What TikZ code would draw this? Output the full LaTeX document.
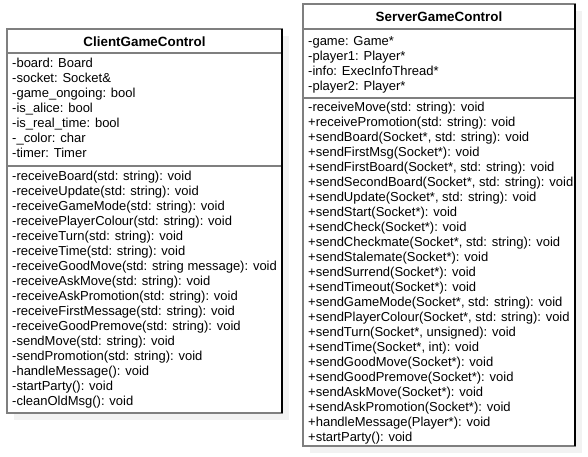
\documentclass[tikz,border=0pt]{standalone}
\usepackage{fontspec}
\setmainfont{Liberation Sans}
\definecolor{edge}{HTML}{7F7F7F}
\definecolor{shadowc}{HTML}{F2F2F2}
\tikzset{
  line/.style={inner sep=0pt, anchor=west, font=\fontsize{13}{15}\selectfont, text height=9.3pt, text depth=2.8pt},
  title/.style={inner sep=0pt, font=\fontsize{13.4}{15}\selectfont\bfseries},
  frame/.style={draw=edge, line width=1.2pt},
  shadowbox/.style={fill=shadowc, draw=none},
}
\begin{document}
\begin{tikzpicture}[x=1pt,y=-1pt]
\useasboundingbox (0,0) rectangle (588,456);
% ---------- ClientGameControl ----------
\fill[shadowbox] (14,36) rectangle (289,420);
\fill[white] (7,29) rectangle (282,413);
\draw[frame] (7,29) rectangle (282,413);
\draw[frame] (7,53) -- (282,53);
\draw[frame] (7,166) -- (282,166);
\draw[black, line width=1.2pt] (282,29) -- (282,413);
\node[title] (ctitle) at (144.5,41.5) {ClientGameControl};
\foreach \t [count=\i from 0] in {
  {-board: Board},
  {-socket: Socket\&},
  {-game\_ongoing: bool},
  {-is\_alice: bool},
  {-is\_real\_time: bool},
  {-\_color: char},
  {-timer: Timer}}
  \node[line] (ca\i) at (12,64+15*\i) {\t};
\foreach \t [count=\i from 0] in {
  {-receiveBoard(std: string): void},
  {-receiveUpdate(std: string): void},
  {-receiveGameMode(std: string): void},
  {-receivePlayerColour(std: string): void},
  {-receiveTurn(std: string): void},
  {-receiveTime(std: string): void},
  {-receiveGoodMove(std: string message): void},
  {-receiveAskMove(std: string): void},
  {-receiveAskPromotion(std: string): void},
  {-receiveFirstMessage(std: string): void},
  {-receiveGoodPremove(std: string): void},
  {-sendMove(std: string): void},
  {-sendPromotion(std: string): void},
  {-handleMessage(): void},
  {-startParty(): void},
  {-cleanOldMsg(): void}}
  \node[line] (cm\i) at (12,177+15*\i) {\t};
% ---------- ServerGameControl ----------
\fill[shadowbox] (310,11) rectangle (582,453);
\fill[white] (303,4) rectangle (575,446);
\draw[frame] (303,4) rectangle (575,446);
\draw[frame] (303,29) -- (575,29);
\draw[frame] (303,98) -- (575,98);
\draw[black, line width=1.2pt] (575,4) -- (575,446);
\node[title] (stitle) at (439,16.5) {ServerGameControl};
\foreach \t [count=\i from 0] in {
  {-game: Game*},
  {-player1: Player*},
  {-info: ExecInfoThread*},
  {-player2: Player*}}
  \node[line] (sa\i) at (308,42+15*\i) {\t};
\foreach \t [count=\i from 0] in {
  {-receiveMove(std: string): void},
  {+receivePromotion(std: string): void},
  {+sendBoard(Socket*, std: string): void},
  {+sendFirstMsg(Socket*): void},
  {+sendFirstBoard(Socket*, std: string): void},
  {+sendSecondBoard(Socket*, std: string): void},
  {+sendUpdate(Socket*, std: string): void},
  {+sendStart(Socket*): void},
  {+sendCheck(Socket*): void},
  {+sendCheckmate(Socket*, std: string): void},
  {+sendStalemate(Socket*): void},
  {+sendSurrend(Socket*): void},
  {+sendTimeout(Socket*): void},
  {+sendGameMode(Socket*, std: string): void},
  {+sendPlayerColour(Socket*, std: string): void},
  {+sendTurn(Socket*, unsigned): void},
  {+sendTime(Socket*, int): void},
  {+sendGoodMove(Socket*): void},
  {+sendGoodPremove(Socket*): void},
  {+sendAskMove(Socket*): void},
  {+sendAskPromotion(Socket*): void},
  {+handleMessage(Player*): void},
  {+startParty(): void}}
  \node[line] (sm\i) at (308,108+15*\i) {\t};
\end{tikzpicture}
\end{document}
